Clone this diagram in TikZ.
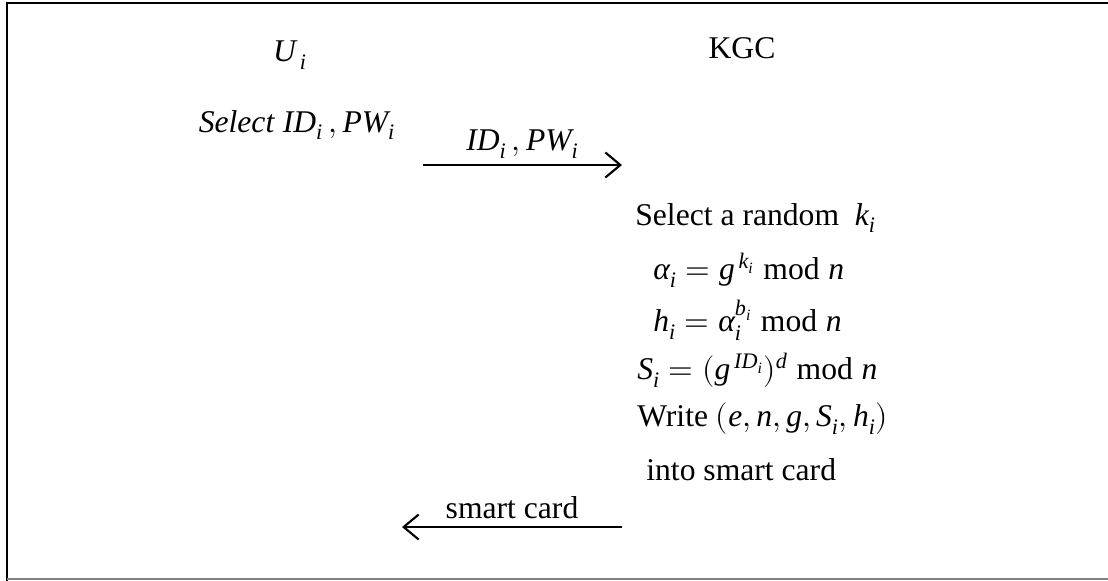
\documentclass[tikz,border=0pt]{standalone}
\usepackage{unicode-math}
\setmainfont{Liberation Serif}
\setmathfont{Latin Modern Math}
\setmathfont{Liberation Serif Italic}[range={it/{latin,Latin,greek,Greek}}]
\setmathfont{Liberation Serif}[range={up/{latin,Latin,num}}]
\usetikzlibrary{arrows.meta}
\begin{document}
\begin{tikzpicture}[x=0.02cm,y=-0.02cm,
  every node/.style={font=\fontsize{18}{22}\selectfont, inner sep=0pt},
  msg/.style={line width=1.2pt, -{Straight Barb[length=3mm,width=5mm]}}]
  \useasboundingbox (0,0) rectangle (1108,581);
  \draw[line width=1.6pt] (7,581) -- (7,3) -- (1108,3);
  \draw[gray, line width=1pt] (7,579) -- (1108,579);
  \node (ui) at (290,55) {$U_{\,i}$};
  \node (kgc) at (742,48) {KGC};
  \node (sel) at (297,125) {\textit{Select} $ID_i\,, PW_i$};
  \coordinate (reqs) at (423,165); \coordinate (reqe) at (622,165);
  \draw[msg] (reqs) -- node[above=3pt] {$ID_i\,, PW_i$} (reqe);
  \foreach \x/\y/\t in {635/218/{Select a random\ \ $k_i$}, 653/270/{$\alpha_i = g^{\,k_i} \bmod n$},
    653/320/{$h_i = \alpha_i^{b_i} \bmod n$}, 637/370/{$S_i = (g^{\,ID_i})^d \bmod n$},
    637/419/{Write $(e, n, g, S_i, h_i)$}, 646/470/{into smart card}}
    \node[anchor=west] (line\y) at (\x,\y) {\t};
  \coordinate (cards) at (622,527); \coordinate (carde) at (402,527);
  \draw[msg] (cards) -- node[above=4pt] {smart card} (carde);
\end{tikzpicture}
\end{document}
